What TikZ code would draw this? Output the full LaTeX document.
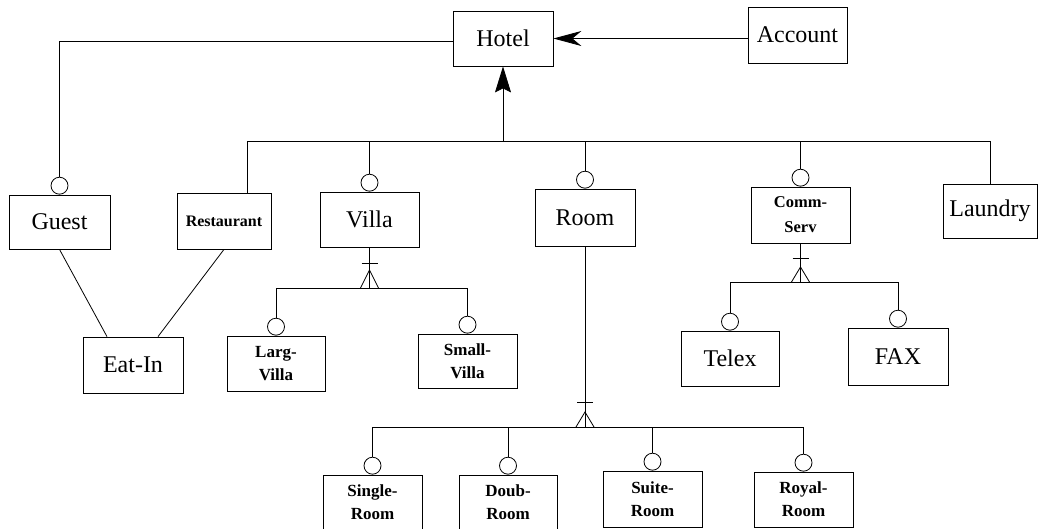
\documentclass[tikz,border=0pt]{standalone}
\usepackage{fontspec}
\setmainfont{Liberation Serif}
\usetikzlibrary{arrows.meta}
\begin{document}
\begin{tikzpicture}[x=1pt,y=-1pt,
  ent/.style={draw, line width=0.8pt, rectangle, inner sep=0pt, font=\fontsize{24}{28}\selectfont},
  sub/.style={ent, align=center, font=\bfseries\fontsize{17}{23}\selectfont},
  circ/.style={draw, line width=0.8pt, circle, minimum size=17pt, inner sep=0pt, anchor=south},
  ln/.style={line width=0.8pt},
  foot/.style={line width=0.8pt}
]
\useasboundingbox (0,0) rectangle (1039,528);
\fill[white] (0,0) rectangle (1039,528);

% top level
\node[ent, minimum width=100pt, minimum height=55pt] (hotel) at (503,38.5) {Hotel};
\node[ent, minimum width=99pt, minimum height=56pt] (account) at (797.5,35) {Account};
\node[ent, minimum width=101pt, minimum height=54pt] (guest) at (59.5,222) {Guest};
\node[ent, minimum width=94pt, minimum height=56pt, font=\bfseries\fontsize{16}{18}\selectfont] (rest) at (224,221) {Restaurant};
\node[ent, minimum width=99pt, minimum height=55pt] (villa) at (369.5,219.5) {Villa};
\node[ent, minimum width=100pt, minimum height=57pt] (room) at (585,217.5) {Room};
\node[sub, minimum width=99pt, minimum height=56pt, font=\bfseries\fontsize{16.5}{25}\selectfont] (comm) at (800.5,215) {Comm-\\Serv};
\node[ent, minimum width=94pt, minimum height=54pt] (laundry) at (990,211) {Laundry};
\node[ent, minimum width=100pt, minimum height=56pt] (eatin) at (133,365) {Eat-In};
\node[sub, minimum width=98pt, minimum height=55pt] (larg) at (276,363.5) {Larg-\\Villa};
\node[sub, minimum width=99pt, minimum height=54pt] (small) at (467.5,361) {Small-\\Villa};
\node[ent, minimum width=98pt, minimum height=55pt] (telex) at (730,358.5) {Telex};
\node[ent, minimum width=100pt, minimum height=57pt] (fax) at (898,356.5) {FAX};
\node[sub, minimum width=99pt, minimum height=55pt] (single) at (372.5,502.5) {Single-\\Room};
\node[sub, minimum width=98pt, minimum height=55pt] (doub) at (508,502.5) {Doub-\\Room};
\node[sub, minimum width=99pt, minimum height=56pt] (suite) at (652.5,499) {Suite-\\Room};
\node[sub, minimum width=99pt, minimum height=55pt] (royal) at (803.5,499.5) {Royal-\\Room};

% circles
\node[circ] (cguest) at (guest.north) {};
\node[circ] (cvilla) at (villa.north) {};
\node[circ] (croom) at (room.north) {};
\node[circ] (ccomm) at (comm.north) {};
\node[circ] (clarg) at (larg.north) {};
\node[circ] (csmall) at (small.north) {};
\node[circ] (ctelex) at (telex.north) {};
\node[circ] (cfax) at (fax.north) {};
\node[circ] (csingle) at (single.north) {};
\node[circ] (cdoub) at (doub.north) {};
\node[circ] (csuite) at (suite.north) {};
\node[circ] (croyal) at (royal.north) {};

% Account -> Hotel
\draw[ln, -{Stealth[length=28pt,width=15pt,inset=9pt]}] (account.west |- hotel.east) -- (hotel.east);
% Hotel -- Guest
\draw[ln] ([yshift=-3pt]hotel.west) -| (cguest.north);

% main bus
\coordinate (busL) at (247,141);
\coordinate (busR) at (990,141);
\draw[ln] (busL) -- (busR);
\draw[ln, -{Stealth[length=26pt,width=16pt,inset=4pt]}] (hotel.south |- busL) -- (hotel.south);
\draw[ln] (busL) -- (busL |- rest.north);
\draw[ln] (cvilla.north |- busL) -- (cvilla.north);
\draw[ln] (croom.north |- busL) -- (croom.north);
\draw[ln] (ccomm.north |- busL) -- (ccomm.north);
\draw[ln] (busR) -- (busR |- laundry.north);

% Eat-In
\draw[ln] (guest.south) -- ([xshift=-26pt]eatin.north);
\draw[ln] (rest.south) -- ([xshift=25pt]eatin.north);

% Villa subtypes
\coordinate (vbase) at (369.5,288);
\draw[ln] (villa.south) -- (vbase);
\draw[foot] (361.5,263) -- (377.5,263);
\draw[foot] (360.5,288) -- (369.5,270) -- (378.5,288);
\draw[ln] (clarg.north |- vbase) -- (csmall.north |- vbase);
\draw[ln] (clarg.north |- vbase) -- (clarg.north);
\draw[ln] (csmall.north |- vbase) -- (csmall.north);

% Comm-Serv subtypes
\coordinate (cbase) at (800.5,282);
\draw[ln] (comm.south) -- (cbase);
\draw[foot] (792.5,258) -- (808.5,258);
\draw[foot] (791.5,282) -- (800.5,267) -- (809.5,282);
\draw[ln] (ctelex.north |- cbase) -- (cfax.north |- cbase);
\draw[ln] (ctelex.north |- cbase) -- (ctelex.north);
\draw[ln] (cfax.north |- cbase) -- (cfax.north);

% Room subtypes
\coordinate (rbase) at (585,427);
\draw[ln] (room.south) -- (rbase);
\draw[foot] (577,402) -- (593,402);
\draw[foot] (576,427) -- (585,412) -- (594,427);
\draw[ln] (csingle.north |- rbase) -- (croyal.north |- rbase);
\draw[ln] (csingle.north |- rbase) -- (csingle.north);
\draw[ln] (cdoub.north |- rbase) -- (cdoub.north);
\draw[ln] (csuite.north |- rbase) -- (csuite.north);
\draw[ln] (croyal.north |- rbase) -- (croyal.north);
\end{tikzpicture}
\end{document}
